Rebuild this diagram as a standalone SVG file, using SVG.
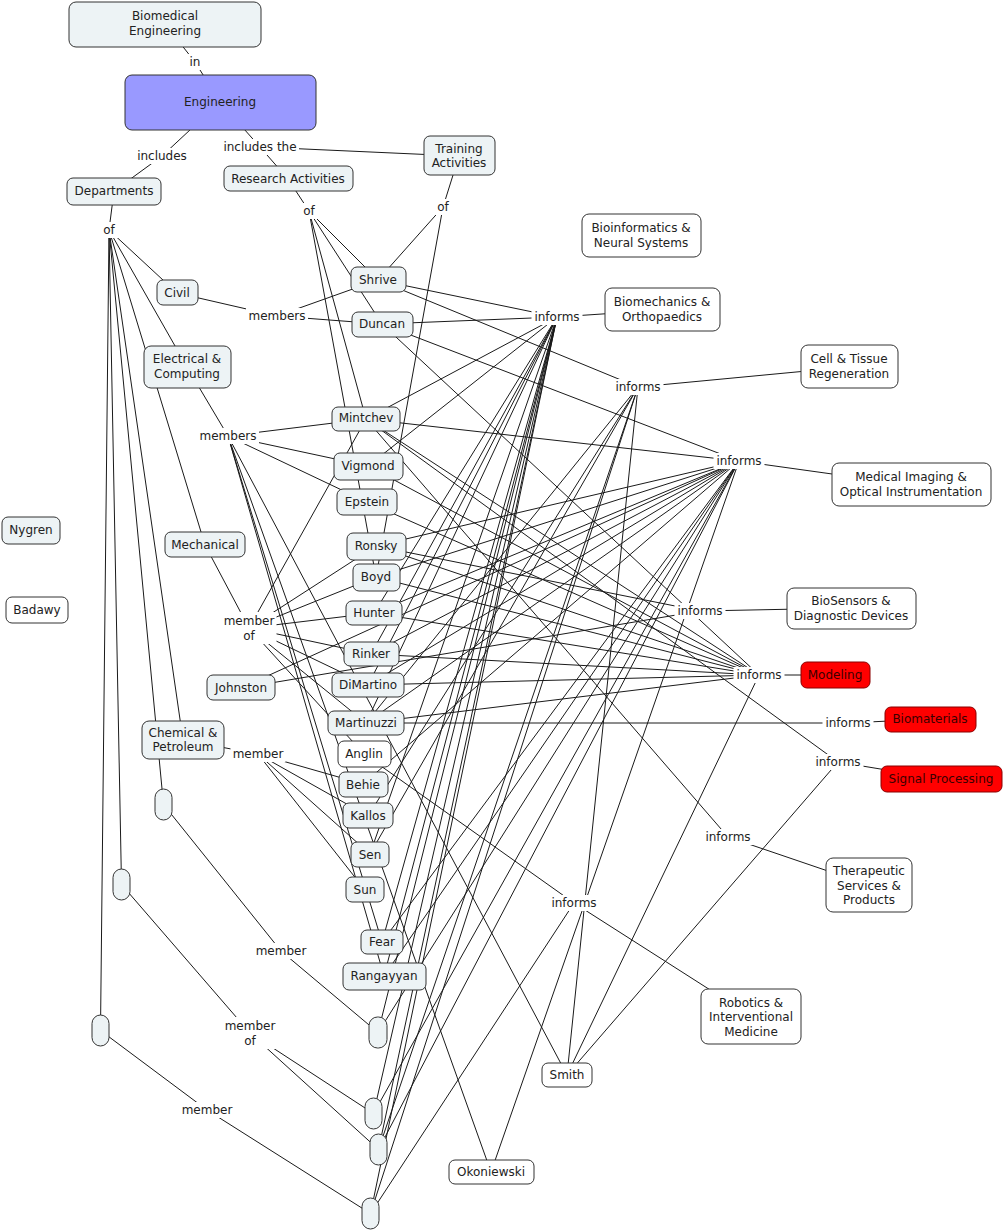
<svg xmlns="http://www.w3.org/2000/svg" width="1003" height="1231" viewBox="0 0 1003 1231">
<style>
text{font-family:"DejaVu Sans",Verdana,sans-serif;font-size:12px;fill:#222;text-anchor:middle}
.n rect{fill:#EDF3F5;stroke:#333;stroke-width:1}
.w rect{fill:#FFFFFF;stroke:#333;stroke-width:1}
.r rect{fill:#FF0000;stroke:#8a0000;stroke-width:1}
.r text{fill:#3a0000}
.b rect{fill:#9999FF;stroke:#333;stroke-width:1}
.l rect{fill:#FFFFFF;stroke:none}
#connectors line{stroke:#1a1a1a;stroke-width:1;fill:none}
</style>
<rect x="0" y="0" width="1003" height="1231" fill="#FFFFFF"/>
<g id="connectors">
<line x1="165" y1="24" x2="195" y2="62"/>
<line x1="195" y1="62" x2="220" y2="102"/>
<line x1="220" y1="102" x2="162" y2="156"/>
<line x1="162" y1="156" x2="114" y2="191"/>
<line x1="220" y1="102" x2="260" y2="147"/>
<line x1="260" y1="147" x2="288" y2="179"/>
<line x1="260" y1="147" x2="459" y2="156"/>
<line x1="114" y1="191" x2="109" y2="230"/>
<line x1="288" y1="179" x2="309" y2="211"/>
<line x1="459" y1="156" x2="443" y2="207"/>
<line x1="109" y1="230" x2="177" y2="293"/>
<line x1="109" y1="230" x2="187" y2="367"/>
<line x1="109" y1="230" x2="205" y2="545"/>
<line x1="109" y1="230" x2="183" y2="740"/>
<line x1="109" y1="230" x2="163.5" y2="804.5"/>
<line x1="109" y1="230" x2="121.5" y2="884.5"/>
<line x1="109" y1="230" x2="100.5" y2="1030.5"/>
<line x1="309" y1="211" x2="378" y2="280"/>
<line x1="309" y1="211" x2="382" y2="324"/>
<line x1="309" y1="211" x2="366" y2="419"/>
<line x1="309" y1="211" x2="376" y2="577"/>
<line x1="443" y1="207" x2="378" y2="280"/>
<line x1="443" y1="207" x2="376" y2="577"/>
<line x1="177" y1="293" x2="277" y2="316"/>
<line x1="277" y1="316" x2="378" y2="280"/>
<line x1="277" y1="316" x2="382" y2="324"/>
<line x1="187" y1="367" x2="228" y2="436"/>
<line x1="228" y1="436" x2="366" y2="419"/>
<line x1="228" y1="436" x2="368" y2="466"/>
<line x1="228" y1="436" x2="367" y2="502"/>
<line x1="228" y1="436" x2="567" y2="1075"/>
<line x1="228" y1="436" x2="491" y2="1172"/>
<line x1="228" y1="436" x2="382" y2="942"/>
<line x1="228" y1="436" x2="384" y2="976"/>
<line x1="205" y1="545" x2="249" y2="628"/>
<line x1="249" y1="628" x2="366" y2="419"/>
<line x1="249" y1="628" x2="376" y2="546"/>
<line x1="249" y1="628" x2="376" y2="577"/>
<line x1="249" y1="628" x2="374" y2="613"/>
<line x1="249" y1="628" x2="371" y2="654"/>
<line x1="249" y1="628" x2="368" y2="685"/>
<line x1="249" y1="628" x2="366" y2="723"/>
<line x1="249" y1="628" x2="364" y2="754"/>
<line x1="183" y1="740" x2="258" y2="754"/>
<line x1="258" y1="754" x2="363" y2="784"/>
<line x1="258" y1="754" x2="368" y2="816"/>
<line x1="258" y1="754" x2="370" y2="854"/>
<line x1="258" y1="754" x2="365" y2="890"/>
<line x1="163.5" y1="804.5" x2="281" y2="951"/>
<line x1="281" y1="951" x2="378" y2="1032.5"/>
<line x1="121.5" y1="884.5" x2="250" y2="1033"/>
<line x1="250" y1="1033" x2="373.5" y2="1113.5"/>
<line x1="250" y1="1033" x2="378.5" y2="1149.5"/>
<line x1="100.5" y1="1030.5" x2="207" y2="1110"/>
<line x1="207" y1="1110" x2="370.5" y2="1213.5"/>
<line x1="557" y1="317" x2="662" y2="310"/>
<line x1="638" y1="387" x2="849" y2="367"/>
<line x1="739" y1="461" x2="911" y2="485"/>
<line x1="700" y1="611" x2="851" y2="608"/>
<line x1="759" y1="675" x2="835" y2="675"/>
<line x1="848" y1="723" x2="930" y2="719"/>
<line x1="838" y1="762" x2="941" y2="779"/>
<line x1="728" y1="837" x2="869" y2="885"/>
<line x1="574" y1="903" x2="751" y2="1016"/>
<line x1="378" y1="280" x2="557" y2="317"/>
<line x1="378" y1="280" x2="638" y2="387"/>
<line x1="382" y1="324" x2="557" y2="317"/>
<line x1="382" y1="324" x2="739" y2="461"/>
<line x1="382" y1="324" x2="759" y2="675"/>
<line x1="366" y1="419" x2="557" y2="317"/>
<line x1="366" y1="419" x2="739" y2="461"/>
<line x1="366" y1="419" x2="759" y2="675"/>
<line x1="366" y1="419" x2="838" y2="762"/>
<line x1="366" y1="419" x2="728" y2="837"/>
<line x1="368" y1="466" x2="557" y2="317"/>
<line x1="368" y1="466" x2="759" y2="675"/>
<line x1="367" y1="502" x2="759" y2="675"/>
<line x1="376" y1="546" x2="739" y2="461"/>
<line x1="376" y1="546" x2="759" y2="675"/>
<line x1="376" y1="546" x2="700" y2="611"/>
<line x1="376" y1="577" x2="739" y2="461"/>
<line x1="376" y1="577" x2="759" y2="675"/>
<line x1="374" y1="613" x2="557" y2="317"/>
<line x1="374" y1="613" x2="739" y2="461"/>
<line x1="374" y1="613" x2="759" y2="675"/>
<line x1="241" y1="688" x2="739" y2="461"/>
<line x1="241" y1="688" x2="700" y2="611"/>
<line x1="371" y1="654" x2="557" y2="317"/>
<line x1="371" y1="654" x2="739" y2="461"/>
<line x1="371" y1="654" x2="759" y2="675"/>
<line x1="368" y1="685" x2="557" y2="317"/>
<line x1="368" y1="685" x2="739" y2="461"/>
<line x1="368" y1="685" x2="759" y2="675"/>
<line x1="366" y1="723" x2="557" y2="317"/>
<line x1="366" y1="723" x2="638" y2="387"/>
<line x1="366" y1="723" x2="739" y2="461"/>
<line x1="366" y1="723" x2="759" y2="675"/>
<line x1="366" y1="723" x2="848" y2="723"/>
<line x1="364" y1="754" x2="574" y2="903"/>
<line x1="363" y1="784" x2="739" y2="461"/>
<line x1="368" y1="816" x2="638" y2="387"/>
<line x1="370" y1="854" x2="638" y2="387"/>
<line x1="370" y1="854" x2="557" y2="317"/>
<line x1="382" y1="942" x2="557" y2="317"/>
<line x1="382" y1="942" x2="739" y2="461"/>
<line x1="384" y1="976" x2="557" y2="317"/>
<line x1="384" y1="976" x2="739" y2="461"/>
<line x1="378" y1="1032.5" x2="557" y2="317"/>
<line x1="378" y1="1032.5" x2="739" y2="461"/>
<line x1="373.5" y1="1113.5" x2="557" y2="317"/>
<line x1="373.5" y1="1113.5" x2="739" y2="461"/>
<line x1="378.5" y1="1149.5" x2="557" y2="317"/>
<line x1="378.5" y1="1149.5" x2="638" y2="387"/>
<line x1="378.5" y1="1149.5" x2="739" y2="461"/>
<line x1="370.5" y1="1213.5" x2="557" y2="317"/>
<line x1="370.5" y1="1213.5" x2="638" y2="387"/>
<line x1="370.5" y1="1213.5" x2="574" y2="903"/>
<line x1="567" y1="1075" x2="638" y2="387"/>
<line x1="567" y1="1075" x2="759" y2="675"/>
<line x1="567" y1="1075" x2="838" y2="762"/>
<line x1="491" y1="1172" x2="739" y2="461"/>
</g>
<g id="lbl-in" class="l"><rect x="188" y="54" width="14" height="16"/><text x="195" y="66">in</text></g>
<g id="lbl-includes" class="l"><rect x="134.5" y="148" width="55" height="16"/><text x="162" y="160">includes</text></g>
<g id="lbl-includes-the" class="l"><rect x="221" y="139" width="78" height="16"/><text x="260" y="151">includes the</text></g>
<g id="lbl-of-dept" class="l"><rect x="100" y="222" width="18" height="16"/><text x="109" y="234">of</text></g>
<g id="lbl-of-research" class="l"><rect x="300" y="203" width="18" height="16"/><text x="309" y="215">of</text></g>
<g id="lbl-of-training" class="l"><rect x="434" y="199" width="18" height="16"/><text x="443" y="211">of</text></g>
<g id="lbl-members-civil" class="l"><rect x="246" y="308" width="62" height="16"/><text x="277" y="320">members</text></g>
<g id="lbl-members-elec" class="l"><rect x="197" y="428" width="62" height="16"/><text x="228" y="440">members</text></g>
<g id="lbl-memberof-mech" class="l"><rect x="221.5" y="612" width="55" height="32"/><text x="249" y="625">member</text><text x="249" y="640">of</text></g>
<g id="lbl-member-chem" class="l"><rect x="230.5" y="746" width="55" height="16"/><text x="258" y="758">member</text></g>
<g id="lbl-member-p1" class="l"><rect x="253.5" y="943" width="55" height="16"/><text x="281" y="955">member</text></g>
<g id="lbl-memberof-p2" class="l"><rect x="222.5" y="1017" width="55" height="32"/><text x="250" y="1030">member</text><text x="250" y="1045">of</text></g>
<g id="lbl-member-p3" class="l"><rect x="179.5" y="1102" width="55" height="16"/><text x="207" y="1114">member</text></g>
<g id="lbl-informs-biomech" class="l"><rect x="531.5" y="309" width="51" height="16"/><text x="557" y="321">informs</text></g>
<g id="lbl-informs-cell" class="l"><rect x="612.5" y="379" width="51" height="16"/><text x="638" y="391">informs</text></g>
<g id="lbl-informs-imaging" class="l"><rect x="713.5" y="453" width="51" height="16"/><text x="739" y="465">informs</text></g>
<g id="lbl-informs-biosensors" class="l"><rect x="674.5" y="603" width="51" height="16"/><text x="700" y="615">informs</text></g>
<g id="lbl-informs-modeling" class="l"><rect x="733.5" y="667" width="51" height="16"/><text x="759" y="679">informs</text></g>
<g id="lbl-informs-biomaterials" class="l"><rect x="822.5" y="715" width="51" height="16"/><text x="848" y="727">informs</text></g>
<g id="lbl-informs-signal" class="l"><rect x="812.5" y="754" width="51" height="16"/><text x="838" y="766">informs</text></g>
<g id="lbl-informs-therapeutic" class="l"><rect x="702.5" y="829" width="51" height="16"/><text x="728" y="841">informs</text></g>
<g id="lbl-informs-robotics" class="l"><rect x="548.5" y="895" width="51" height="16"/><text x="574" y="907">informs</text></g>
<g id="n-bme" class="n"><rect x="69" y="2" width="192" height="45" rx="7"/><text x="165" y="20">Biomedical</text><text x="165" y="35">Engineering</text></g>
<g id="n-engineering" class="b"><rect x="125" y="75" width="191" height="55" rx="7"/><text x="220" y="106">Engineering</text></g>
<g id="n-departments" class="n"><rect x="67" y="178" width="94" height="27" rx="6"/><text x="114" y="195">Departments</text></g>
<g id="n-research" class="n"><rect x="224" y="166" width="129" height="25" rx="6"/><text x="288" y="183">Research Activities</text></g>
<g id="n-training" class="n"><rect x="424" y="136" width="71" height="39" rx="6"/><text x="459" y="153">Training</text><text x="459" y="167">Activities</text></g>
<g id="n-civil" class="n"><rect x="157" y="280" width="41" height="25" rx="6"/><text x="177" y="297">Civil</text></g>
<g id="n-shrive" class="n"><rect x="351" y="267" width="55" height="25" rx="6"/><text x="378" y="284">Shrive</text></g>
<g id="n-duncan" class="n"><rect x="352" y="312" width="61" height="25" rx="6"/><text x="382" y="328">Duncan</text></g>
<g id="n-bioinformatics" class="w"><rect x="582" y="214" width="119" height="43" rx="7"/><text x="641" y="232">Bioinformatics &amp;</text><text x="641" y="247">Neural Systems</text></g>
<g id="n-biomechanics" class="w"><rect x="605" y="288" width="115" height="43" rx="7"/><text x="662" y="306">Biomechanics &amp;</text><text x="662" y="321">Orthopaedics</text></g>
<g id="n-electrical" class="n"><rect x="144" y="346" width="87" height="42" rx="7"/><text x="187" y="363">Electrical &amp;</text><text x="187" y="378">Computing</text></g>
<g id="n-cell" class="w"><rect x="801" y="345" width="97" height="43" rx="7"/><text x="849" y="363">Cell &amp; Tissue</text><text x="849" y="378">Regeneration</text></g>
<g id="n-mintchev" class="n"><rect x="332" y="407" width="68" height="24" rx="6"/><text x="366" y="422">Mintchev</text></g>
<g id="n-vigmond" class="n"><rect x="334" y="453" width="69" height="27" rx="6"/><text x="368" y="470">Vigmond</text></g>
<g id="n-imaging" class="w"><rect x="832" y="463" width="159" height="43" rx="7"/><text x="911" y="481">Medical Imaging &amp;</text><text x="911" y="496">Optical Instrumentation</text></g>
<g id="n-epstein" class="n"><rect x="337" y="489" width="60" height="26" rx="6"/><text x="367" y="506">Epstein</text></g>
<g id="n-nygren" class="n"><rect x="2" y="517" width="58" height="27" rx="6"/><text x="31" y="534">Nygren</text></g>
<g id="n-mechanical" class="n"><rect x="165" y="532" width="80" height="25" rx="6"/><text x="205" y="549">Mechanical</text></g>
<g id="n-ronsky" class="n"><rect x="347" y="533" width="59" height="27" rx="6"/><text x="376" y="550">Ronsky</text></g>
<g id="n-boyd" class="n"><rect x="353" y="564" width="47" height="27" rx="6"/><text x="376" y="581">Boyd</text></g>
<g id="n-biosensors" class="w"><rect x="787" y="588" width="129" height="41" rx="7"/><text x="851" y="605">BioSensors &amp;</text><text x="851" y="620">Diagnostic Devices</text></g>
<g id="n-badawy" class="w"><rect x="6" y="597" width="62" height="26" rx="6"/><text x="37" y="614">Badawy</text></g>
<g id="n-hunter" class="n"><rect x="346" y="601" width="56" height="24" rx="6"/><text x="374" y="617">Hunter</text></g>
<g id="n-rinker" class="n"><rect x="344" y="642" width="55" height="24" rx="6"/><text x="371" y="658">Rinker</text></g>
<g id="n-johnston" class="n"><rect x="207" y="675" width="68" height="25" rx="6"/><text x="241" y="692">Johnston</text></g>
<g id="n-dimartino" class="n"><rect x="332" y="673" width="72" height="24" rx="6"/><text x="368" y="689">DiMartino</text></g>
<g id="n-modeling" class="r"><rect x="801" y="662" width="69" height="26" rx="6"/><text x="835" y="679">Modeling</text></g>
<g id="n-martinuzzi" class="n"><rect x="328" y="711" width="76" height="24" rx="6"/><text x="366" y="727">Martinuzzi</text></g>
<g id="n-biomaterials" class="r"><rect x="885" y="707" width="91" height="25" rx="6"/><text x="930" y="723">Biomaterials</text></g>
<g id="n-chemical" class="n"><rect x="142" y="721" width="82" height="38" rx="7"/><text x="183" y="737">Chemical &amp;</text><text x="183" y="751">Petroleum</text></g>
<g id="n-anglin" class="w"><rect x="338" y="741" width="53" height="26" rx="6"/><text x="364" y="758">Anglin</text></g>
<g id="n-signal" class="r"><rect x="881" y="766" width="121" height="26" rx="6"/><text x="941" y="783">Signal Processing</text></g>
<g id="n-behie" class="n"><rect x="339" y="772" width="49" height="25" rx="6"/><text x="363" y="789">Behie</text></g>
<g id="n-kallos" class="n"><rect x="343" y="803" width="50" height="25" rx="6"/><text x="368" y="820">Kallos</text></g>
<g id="n-sen" class="n"><rect x="351" y="842" width="38" height="25" rx="6"/><text x="370" y="859">Sen</text></g>
<g id="n-therapeutic" class="w"><rect x="826" y="858" width="86" height="54" rx="7"/><text x="869" y="875">Therapeutic</text><text x="869" y="890">Services &amp;</text><text x="869" y="904">Products</text></g>
<g id="n-sun" class="n"><rect x="346" y="877" width="38" height="25" rx="6"/><text x="365" y="894">Sun</text></g>
<g id="n-fear" class="n"><rect x="361" y="930" width="42" height="24" rx="6"/><text x="382" y="946">Fear</text></g>
<g id="n-rangayyan" class="n"><rect x="343" y="963" width="83" height="27" rx="6"/><text x="384" y="980">Rangayyan</text></g>
<g id="n-robotics" class="w"><rect x="701" y="989" width="100" height="55" rx="7"/><text x="751" y="1007">Robotics &amp;</text><text x="751" y="1021">Interventional</text><text x="751" y="1036">Medicine</text></g>
<g id="n-smith" class="w"><rect x="542" y="1063" width="50" height="24" rx="6"/><text x="567" y="1079">Smith</text></g>
<g id="n-okoniewski" class="w"><rect x="449" y="1160" width="85" height="24" rx="6"/><text x="491" y="1176">Okoniewski</text></g>
<g id="n-p1" class="n"><rect x="155" y="789" width="17" height="31" rx="8.5"/></g>
<g id="n-p2" class="n"><rect x="113" y="869" width="17" height="31" rx="8.5"/></g>
<g id="n-p3" class="n"><rect x="92" y="1015" width="17" height="31" rx="8.5"/></g>
<g id="n-p4" class="n"><rect x="369" y="1017" width="18" height="31" rx="8.5"/></g>
<g id="n-p5" class="n"><rect x="365" y="1098" width="17" height="31" rx="8.5"/></g>
<g id="n-p6" class="n"><rect x="370" y="1134" width="17" height="31" rx="8.5"/></g>
<g id="n-p7" class="n"><rect x="362" y="1198" width="17" height="31" rx="8.5"/></g>
</svg>
